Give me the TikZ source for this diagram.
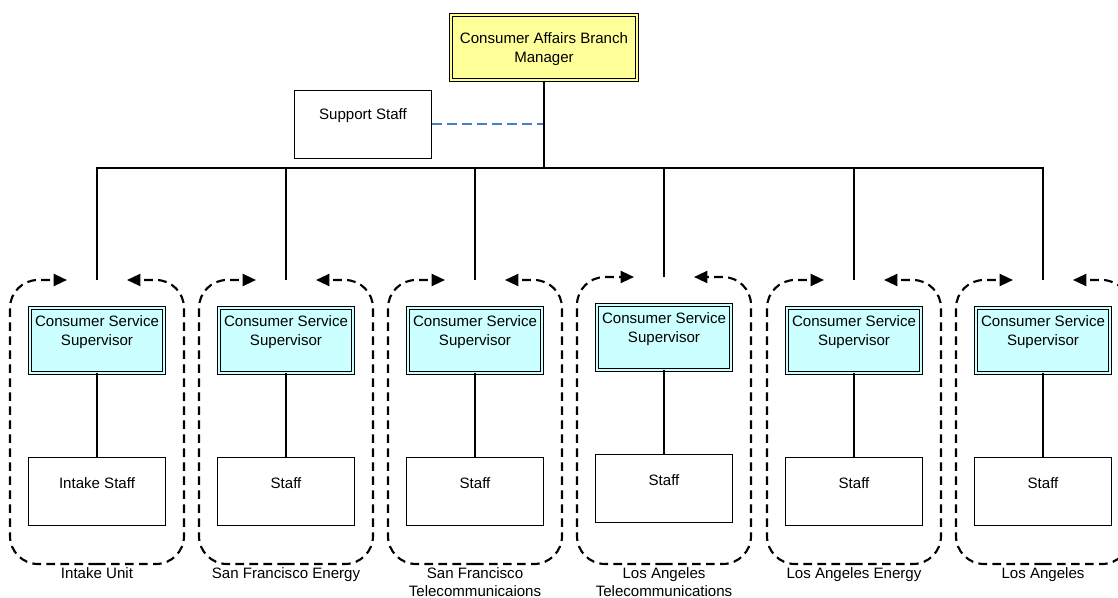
\documentclass[tikz,border=0pt]{standalone}
\usepackage{fontspec}
\setmainfont{Liberation Sans}
\usetikzlibrary{arrows.meta}

\definecolor{mgrfill}{HTML}{FFFF99}
\definecolor{supfill}{HTML}{CCFFFF}
\definecolor{linkblue}{HTML}{4F7CC8}

\begin{document}
\begin{tikzpicture}[
  x=0.75pt, y=-0.75pt,
  font=\fontsize{11.3}{14}\selectfont,
  textlift/.style={align=center, inner sep=0pt, yshift=6.3pt},
  framed/.style={draw, line width=0.7pt, double=#1, double distance=1.5pt, fill=#1},
  mgrbox/.style={framed=mgrfill, minimum width=139.7pt, minimum height=49pt, inner sep=0pt,
    label={[align=center, inner sep=0pt, yshift=-1.3pt]center:#1}},
  supbox/.style={framed=supfill, minimum width=100.7pt, minimum height=49pt, inner sep=0pt,
    label={[textlift]center:Consumer Service\\Supervisor}},
  plainbox/.style={draw, line width=0.75pt, fill=white,
    minimum width=102.75pt, minimum height=51pt, inner sep=0pt,
    label={[textlift]center:#1}},
  busline/.style={line width=0.9pt},
  mgrline/.style={line width=1.4pt},
  supportlink/.style={draw=linkblue, line width=1.5pt, dash pattern=on 7.5pt off 3.75pt},
  unitframe/.style={line width=1.6pt, dash pattern=on 6.5pt off 4pt,
    rounded corners=21pt, -{Triangle[length=10pt,width=9pt]}},
  unitname/.style={anchor=north, align=center, inner sep=0pt,
    font=\fontsize{11.3}{13.5}\selectfont}
]
\useasboundingbox (0,0) rectangle (1118,598);

% branch manager and support staff
\node[mgrbox={Consumer Affairs Branch\\Manager}] (mgr) at (544,47.6) {};
\node[plainbox={Support Staff}] (support) at (363,124.5) {};
\draw[supportlink] (support.east) -- (support.east -| mgr.south);

% the six units
\foreach \i/\cx/\dy/\stafftext/\uname in {
  1/97/0/{Intake Staff}/{Intake Unit},
  2/286/0/{Staff}/{San Francisco Energy},
  3/475/0/{Staff}/{San Francisco\\Telecommunicaions},
  4/664/-3/{Staff}/{Los Angeles\\Telecommunications},
  5/854/0/{Staff}/{Los Angeles Energy},
  6/1043/0/{Staff}/{Los Angeles}}
{
  \coordinate (t\i) at (\cx,{280+\dy});
  \node[supbox] (sup\i) at (\cx,{340.3+\dy}) {};
  \node[plainbox=\stafftext] (staff\i) at (\cx,{491.2+\dy}) {};
  \draw[busline] (sup\i.south) -- (staff\i.north);
  % dashed unit outline, open at the top where the reporting line enters
  \coordinate (fb\i) at (\cx,564);
  \draw[unitframe] (fb\i) -| ({\cx-87},{280+\dy}) -- ({\cx-30},{280+\dy});
  \draw[unitframe] (fb\i) -| ({\cx+87},{280+\dy}) -- ({\cx+30},{280+\dy});
  \node[unitname] (unit\i) at (\cx,567.5) {\uname};
}

% reporting lines
\coordinate (bus) at (544,168);
\draw[mgrline] (mgr.south) -- (bus);
\draw[busline] (t1) |- (bus) -| (t6);
\foreach \i in {2,...,5}{
  \draw[busline] (t\i) -- (t\i |- bus);
}
\end{tikzpicture}
\end{document}
